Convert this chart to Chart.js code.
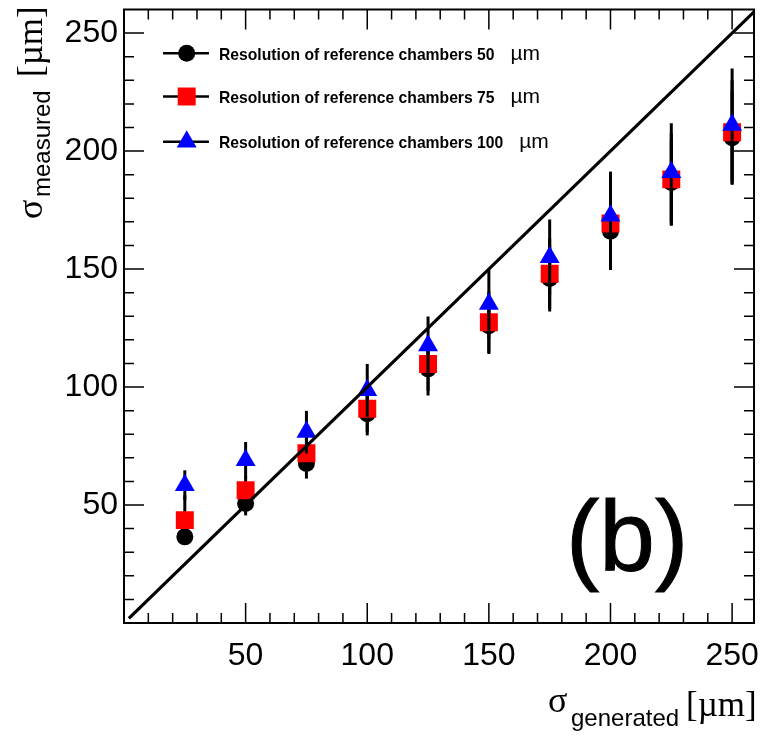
<!DOCTYPE html>
<html>
<head>
<meta charset="utf-8">
<script src="https://cdn.jsdelivr.net/npm/chart.js@4.4.1/dist/chart.umd.min.js"></script>
<style>
html, body { margin: 0; padding: 0; background: #fff; }
#wrap { width: 762px; height: 737px; }
</style>
</head>
<body>
<div id="wrap"><canvas id="grafico"></canvas></div>
<script>
const sigmaGenerated = [25, 50, 75, 100, 125, 150, 175, 200, 225, 250];
const measured50 = [36.5, 50.6, 67.6, 88.7, 107.7, 126, 146, 166, 186.7, 205.7];
const errors50 = [3, 5, 6.4, 9.2, 11.3, 12, 14, 16.4, 18.3, 20];
const measured75 = [43.6, 56.3, 71.9, 90.8, 109.8, 127.5, 148, 169.3, 188, 208];
const errors75 = [10.5, 6, 7.5, 10, 11.5, 13, 15, 17.5, 19.5, 22];
const measured100 = [58.4, 69, 80.9, 98.6, 117.6, 135.2, 155, 172.6, 191, 211];
const errors100 = [6.3, 7.7, 9, 11.2, 12.3, 14.4, 16, 18.7, 20.8, 24];
const diagonal = [2, 259];
const xTicks = [50, 100, 150, 200, 250];
const yTicks = [50, 100, 150, 200, 250];
const legendLabels = [
    'Resolution of reference chambers 50',
    'Resolution of reference chambers 75',
    'Resolution of reference chambers 100'
];

function pontos(ys) {
    return sigmaGenerated.map((x, i) => ({ x: x, y: ys[i] }));
}

// error bars are drawn right before each dataset's markers
const barrasErro = {
    id: 'barrasErro',
    beforeDatasetDraw(chart, args) {
        const ds = chart.data.datasets[args.index];
        if (!ds.errors) return;
        const ctx = chart.ctx;
        const ys = chart.scales.y;
        ctx.save();
        ctx.strokeStyle = '#000';
        ctx.lineWidth = 3;
        args.meta.data.forEach((pt, i) => {
            const v = ds.data[i].y;
            const e = ds.errors[i];
            ctx.beginPath();
            ctx.moveTo(pt.x, ys.getPixelForValue(v - e));
            ctx.lineTo(pt.x, ys.getPixelForValue(v + e));
            ctx.stroke();
        });
        ctx.restore();
    }
};

// ROOT style frame with inward ticks on all sides
const moldura = {
    id: 'moldura',
    afterDraw(chart) {
        const ctx = chart.ctx;
        const a = chart.chartArea;
        const xs = chart.scales.x;
        const ys = chart.scales.y;
        ctx.save();
        ctx.strokeStyle = '#000';
        ctx.lineWidth = 1.5;
        for (let v = 10; v < xs.max; v += 10) {
            const px = xs.getPixelForValue(v);
            const len = v % 50 === 0 ? 20 : 10;
            ctx.beginPath();
            ctx.moveTo(px, a.bottom); ctx.lineTo(px, a.bottom - len);
            ctx.moveTo(px, a.top); ctx.lineTo(px, a.top + len);
            ctx.stroke();
        }
        for (let v = 10; v < ys.max; v += 10) {
            const py = ys.getPixelForValue(v);
            const len = v % 50 === 0 ? 20 : 10;
            ctx.beginPath();
            ctx.moveTo(a.left, py); ctx.lineTo(a.left + len, py);
            ctx.moveTo(a.right, py); ctx.lineTo(a.right - len, py);
            ctx.stroke();
        }
        ctx.lineWidth = 2;
        ctx.strokeRect(a.left, a.top, a.right - a.left, a.bottom - a.top);
        ctx.restore();
    }
};

const textos = {
    id: 'textos',
    afterDraw(chart) {
        const ctx = chart.ctx;
        ctx.save();
        ctx.fillStyle = '#000';
        ctx.textBaseline = 'alphabetic';
        ctx.textAlign = 'left';

        // legend
        const linhas = [53.3, 96.5, 141.7];
        chart.data.datasets.slice(0, 3).forEach((ds, i) => {
            const y = linhas[i];
            ctx.strokeStyle = '#000';
            ctx.lineWidth = 2.5;
            ctx.beginPath();
            ctx.moveTo(163, y); ctx.lineTo(209, y);
            ctx.stroke();
            ctx.fillStyle = ds.backgroundColor;
            Chart.helpers.drawPoint(ctx, {
                pointStyle: ds.pointStyle, radius: ds.pointRadius, rotation: 0, borderWidth: 0
            }, 186.7, y);
            ctx.fillStyle = '#000';
            ctx.font = 'bold 15.7px "Liberation Sans", Arial, sans-serif';
            ctx.fillText(legendLabels[i], 219, y + 6.5);
            const w = ctx.measureText(legendLabels[i]).width;
            ctx.font = '21px "Liberation Sans", Arial, sans-serif';
            ctx.fillText('\u00b5m', 219 + w + 16, y + 6.5);
        });

        // x axis title
        ctx.font = '36px "Liberation Serif", "Times New Roman", serif';
        ctx.fillText('\u03c3', 548, 712);
        ctx.font = '24px "Liberation Sans", Arial, sans-serif';
        ctx.fillText('generated', 571, 726);
        ctx.font = '35px "Liberation Serif", "Times New Roman", serif';
        ctx.fillText('[\u00b5m]', 686, 716);

        // y axis title
        ctx.save();
        ctx.translate(42, 219);
        ctx.rotate(-Math.PI / 2);
        ctx.font = '36px "Liberation Serif", "Times New Roman", serif';
        ctx.fillText('\u03c3', 0, 0);
        ctx.font = '24px "Liberation Sans", Arial, sans-serif';
        ctx.fillText('measured', 22, 8);
        ctx.font = '35px "Liberation Serif", "Times New Roman", serif';
        ctx.fillText('[\u00b5m]', 142, 0);
        ctx.restore();

        // panel label
        ctx.font = '100px "Liberation Sans", Arial, sans-serif';
        ctx.lineWidth = 1;
        ctx.strokeStyle = '#000';
        ctx.fillText('(b)', 566, 571);
        ctx.strokeText('(b)', 566, 571);
        ctx.restore();
    }
};

const fonteEixo = { family: '"Liberation Sans", Arial, sans-serif', size: 32 };

new Chart(document.getElementById('grafico'), {
    type: 'scatter',
    data: {
        datasets: [
            {
                label: legendLabels[0],
                data: pontos(measured50),
                errors: errors50,
                backgroundColor: '#000000',
                borderColor: '#000000',
                pointStyle: 'circle',
                pointRadius: 8.5,
                borderWidth: 0,
                order: 2
            },
            {
                label: legendLabels[1],
                data: pontos(measured75),
                errors: errors75,
                backgroundColor: '#ff0000',
                borderColor: '#ff0000',
                pointStyle: 'rect',
                pointRadius: 12.7,
                borderWidth: 0,
                order: 1
            },
            {
                label: legendLabels[2],
                data: pontos(measured100),
                errors: errors100,
                backgroundColor: '#0000ff',
                borderColor: '#0000ff',
                pointStyle: 'triangle',
                pointRadius: 11.5,
                borderWidth: 0,
                order: 0
            },
            {
                type: 'line',
                label: 'y = x',
                data: diagonal.map(v => ({ x: v, y: v })),
                borderColor: '#000000',
                borderWidth: 3.2,
                pointRadius: 0,
                fill: false,
                order: -1
            }
        ]
    },
    options: {
        responsive: true,
        maintainAspectRatio: false,
        animation: false,
        layout: { autoPadding: false, padding: { top: 9.5, right: 8, left: 0, bottom: 0 } },
        plugins: {
            legend: { display: false },
            tooltip: { enabled: false }
        },
        scales: {
            x: {
                type: 'linear',
                min: 0,
                max: 259,
                grid: { display: false, drawTicks: false },
                border: { display: false },
                afterBuildTicks: s => { s.ticks = xTicks.map(v => ({ value: v })); },
                afterFit: s => { s.height = 114; s.paddingLeft = 0; s.paddingRight = 0; },
                ticks: { font: fonteEixo, color: '#000', padding: 14, maxRotation: 0, autoSkip: false }
            },
            y: {
                type: 'linear',
                min: 0,
                max: 260,
                grid: { display: false, drawTicks: false },
                border: { display: false },
                afterBuildTicks: s => { s.ticks = yTicks.map(v => ({ value: v })); },
                afterFit: s => { s.width = 124; s.paddingTop = 0; s.paddingBottom = 0; },
                ticks: { font: fonteEixo, color: '#000', padding: 6, autoSkip: false }
            }
        }
    },
    plugins: [barrasErro, moldura, textos]
});
</script>
</body>
</html>
